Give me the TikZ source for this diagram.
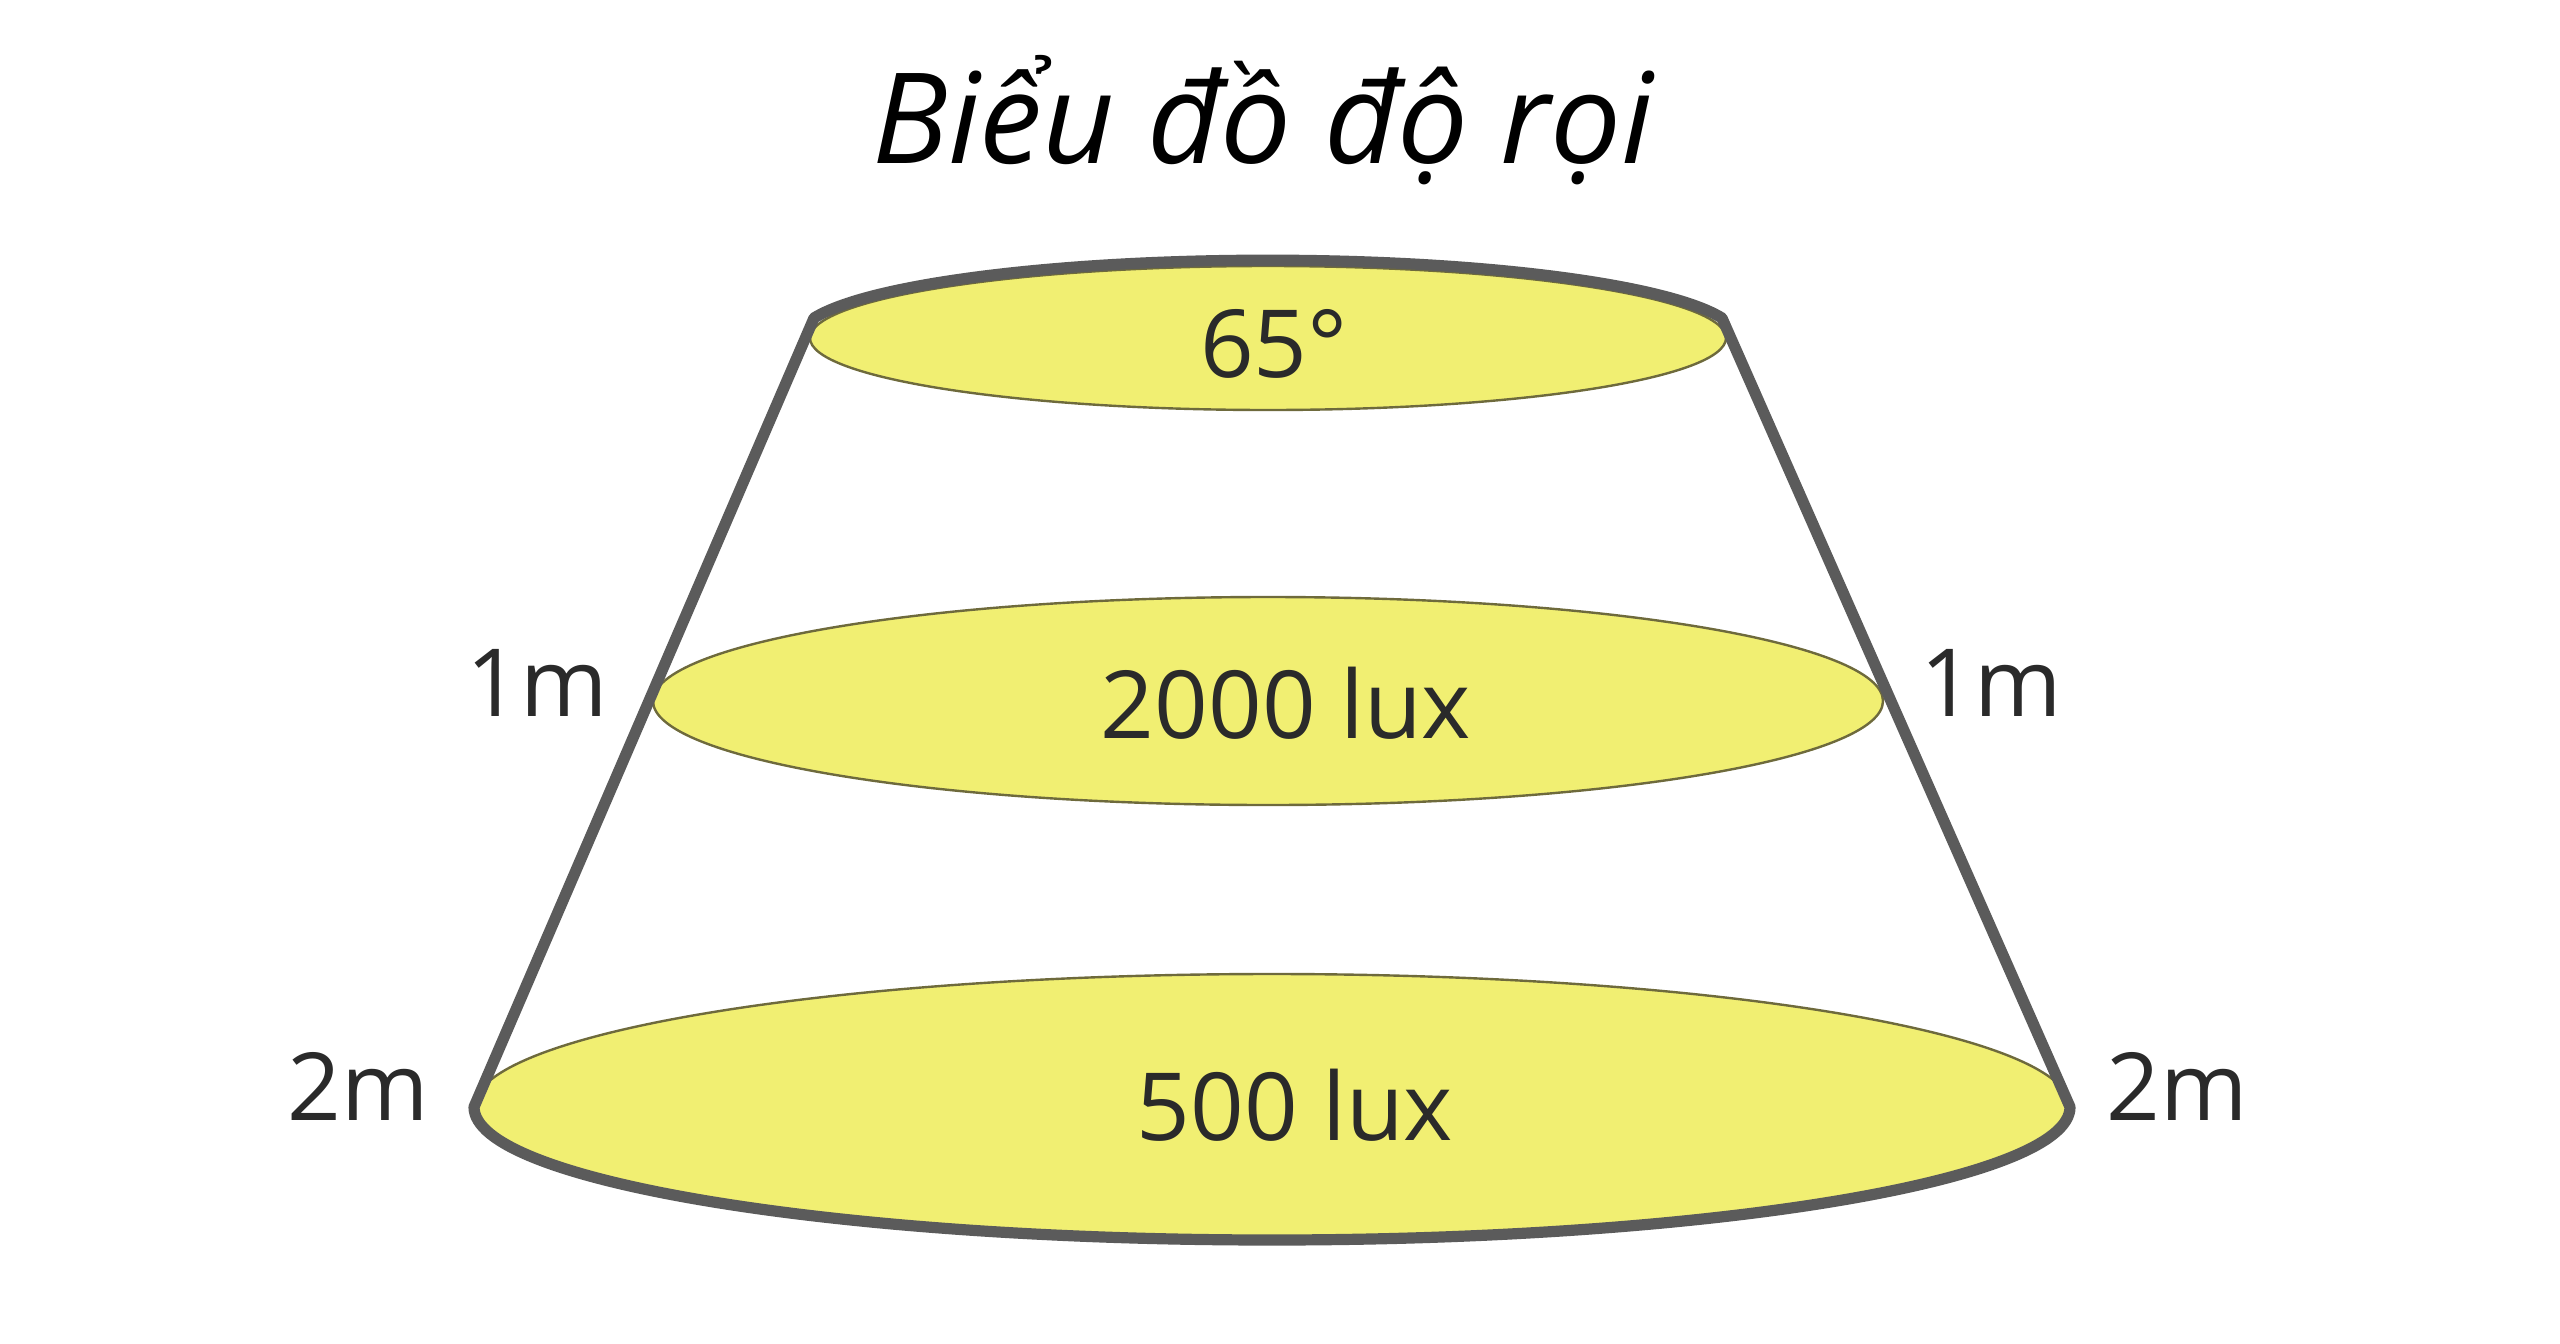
\documentclass[tikz,border=0pt]{standalone}
\usepackage{fontspec}
\setmainfont{Open Sans}
\begin{document}
\begin{tikzpicture}[x=0.5pt,y=0.5pt,
  outline/.style={draw=linegray,line width=5.6pt,line join=round},
  spot/.style={fill=spotyellow,draw=spotedge,line width=1.2pt},
  lbl/.style={anchor=base,text=labeltext,inner sep=0pt,font=\fontsize{47pt}{56pt}\selectfont},
  ttl/.style={anchor=base,text=black,inner sep=0pt,font=\fontsize{63pt}{76pt}\selectfont\itshape}]
\definecolor{linegray}{HTML}{5B5B5B}
\definecolor{spotyellow}{HTML}{F1EF72}
\definecolor{spotedge}{HTML}{6E6A3C}
\definecolor{labeltext}{HTML}{2A2A2A}
\useasboundingbox (0,0) rectangle (2560,-1344);
% corners
\coordinate (tl) at (814,-318);
\coordinate (tr) at (1722,-318);
\coordinate (bl) at (474,-1107);
\coordinate (br) at (2070,-1107);
% light spots
\fill[spot] (1268,-338) ellipse [x radius=229pt, y radius=36pt];
\fill[spot] (1268,-701) ellipse [x radius=307.5pt, y radius=52pt];
\fill[spot] (1272,-1107) ellipse [x radius=399pt, y radius=66.5pt];
% cone outline
\draw[outline] (tl) arc[start angle=165,end angle=15,x radius=235pt,y radius=39pt] -- (br)
  arc[start angle=0,end angle=-180,x radius=399pt,y radius=66.5pt] -- cycle;
% texts
\node[ttl] (title) at (1263,-163) {Biểu đồ độ rọi};
\node[lbl] (a65) at (1274,-377) {65°};
\node[lbl] (lux2000) at (1286,-738) {2000 lux};
\node[lbl] (lux500) at (1295,-1140) {500 lux};
\node[lbl] (m1l) at (537,-716) {1m};
\node[lbl] (m1r) at (1991,-716) {1m};
\node[lbl] (m2l) at (358,-1120) {2m};
\node[lbl] (m2r) at (2177,-1120) {2m};
\end{tikzpicture}
\end{document}
